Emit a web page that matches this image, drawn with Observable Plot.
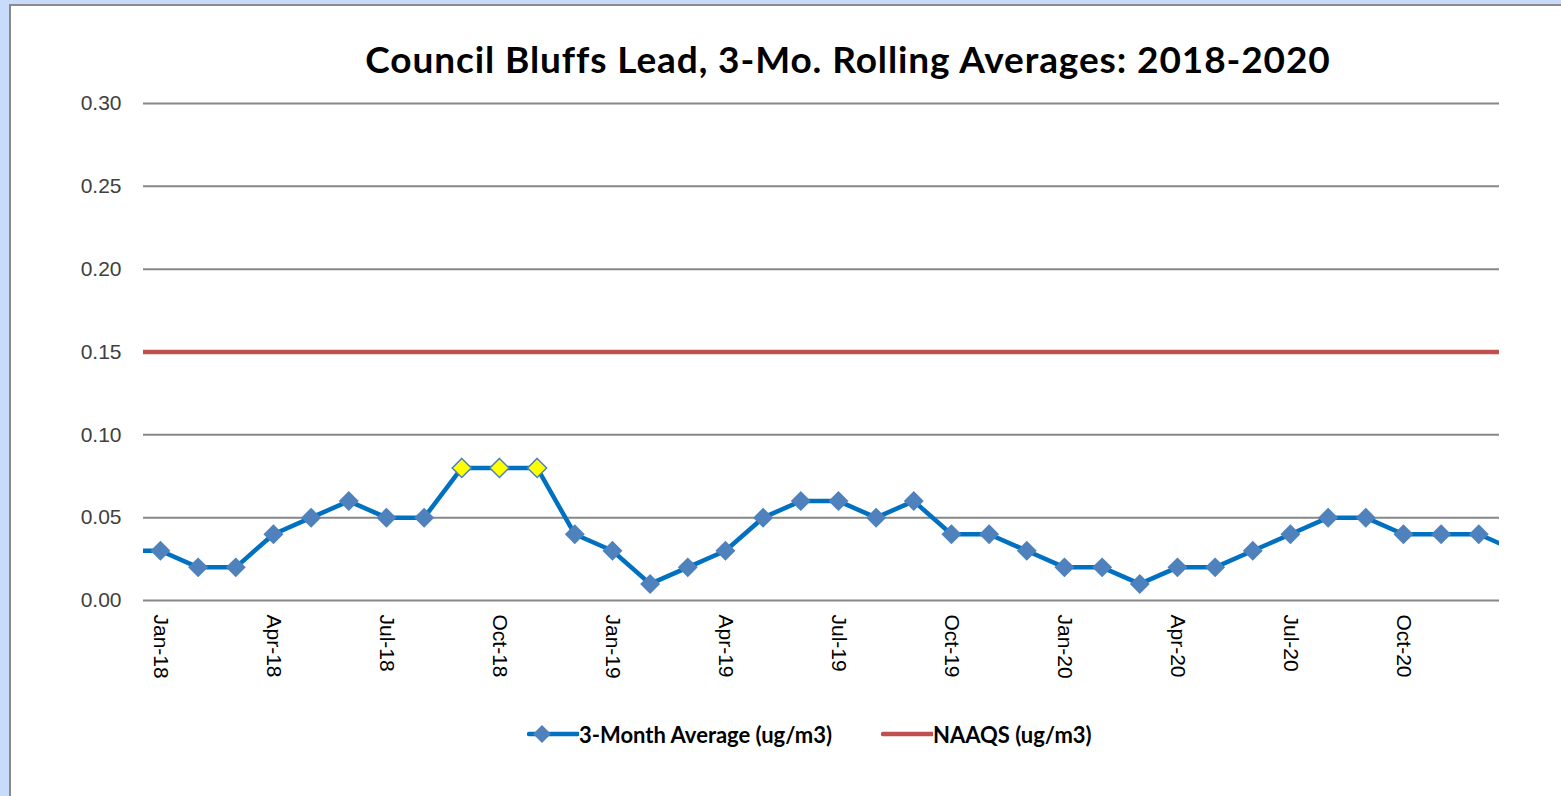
<!DOCTYPE html>
<html><head><meta charset="utf-8">
<script src="https://cdn.jsdelivr.net/npm/d3@7"></script>
<script src="https://cdn.jsdelivr.net/npm/@observablehq/plot@0.6"></script>
<style>
html,body{margin:0;padding:0;width:1561px;height:796px;overflow:hidden;background:#c9dbfb;}
#frame{position:absolute;left:9px;top:4px;width:1600px;height:820px;background:#fff;border-left:2px solid #8a8a8a;border-top:2px solid #8a8a8a;}
#title{position:absolute;left:248px;width:1200px;top:36px;text-align:center;font-family:Lato,"Open Sans",sans-serif;font-weight:bold;font-size:37px;letter-spacing:0.9px;color:#000;white-space:nowrap;}
#chart{position:absolute;left:0;top:90px;}
#legend{position:absolute;left:0;top:719px;width:1561px;font-family:Lato,"Open Sans",sans-serif;font-weight:bold;font-size:22px;color:#000;}
.item{position:absolute;top:0;display:flex;align-items:center;white-space:nowrap;}
</style></head>
<body>
<div id="frame"></div>
<div id="title">Council Bluffs Lead, 3-Mo. Rolling Averages: 2018-2020</div>
<div id="chart"></div>
<div id="legend">
  <div class="item" style="left:527px;"><svg width="52" height="30"><line x1="2" y1="15" x2="51" y2="15" stroke="#0070c0" stroke-width="4.5" stroke-linecap="round"/><path d="M15,6L24,15L15,24L6,15Z" fill="#4f81bd"/></svg><span>3-Month Average (ug/m3)</span></div>
  <div class="item" style="left:881px;"><svg width="52" height="30"><line x1="2" y1="15" x2="51" y2="15" stroke="#c0504d" stroke-width="4.5" stroke-linecap="round"/></svg><span>NAAQS (ug/m3)</span></div>
</div>
<script>
// Month labels for each rolling average (Dec-17 and Jan-21 sit just outside the visible axis)
const months = ["Dec-17",
  "Jan-18","Feb-18","Mar-18","Apr-18","May-18","Jun-18","Jul-18","Aug-18","Sep-18","Oct-18","Nov-18","Dec-18",
  "Jan-19","Feb-19","Mar-19","Apr-19","May-19","Jun-19","Jul-19","Aug-19","Sep-19","Oct-19","Nov-19","Dec-19",
  "Jan-20","Feb-20","Mar-20","Apr-20","May-20","Jun-20","Jul-20","Aug-20","Sep-20","Oct-20","Nov-20","Dec-20",
  "Jan-21"];
const averages = [0.03,
  0.03,0.02,0.02,0.04,0.05,0.06,0.05,0.05,0.08,0.08,0.08,0.04,
  0.03,0.01,0.02,0.03,0.05,0.06,0.06,0.05,0.06,0.04,0.04,0.03,
  0.02,0.02,0.01,0.02,0.02,0.03,0.04,0.05,0.05,0.04,0.04,0.04,
  0.03];
const highlighted = ["Sep-18","Oct-18","Nov-18"];
const visibleMonths = months.slice(1, 37);
const naaqs = 0.15;
const yTicks = [0, 0.05, 0.10, 0.15, 0.20, 0.25, 0.30];
const xTickLabels = ["Jan-18","Apr-18","Jul-18","Oct-18","Jan-19","Apr-19","Jul-19","Oct-19","Jan-20","Apr-20","Jul-20","Oct-20"];

const data = months.map((m, k) => ({month: m, i: k - 1, v: averages[k]}));
const shown = data.filter(d => visibleMonths.includes(d.month));
const normal = shown.filter(d => !highlighted.includes(d.month));
const flagged = shown.filter(d => highlighted.includes(d.month));
const xTickPos = xTickLabels.map(l => visibleMonths.indexOf(l));

const chart = Plot.plot({
  width: 1561,
  height: 610,
  marginLeft: 143,
  marginRight: 62,
  marginTop: 13,
  marginBottom: 100,
  style: {fontFamily: "'Liberation Sans', Arial, sans-serif", background: "transparent", overflow: "visible"},
  x: {type: "linear", domain: [-0.45, 35.55]},
  y: {domain: [0, 0.30]},
  marks: [
    Plot.ruleY(yTicks, {stroke: "#878787", strokeWidth: 2}),
    Plot.ruleY([naaqs], {stroke: "#c0504d", strokeWidth: 4.5}),
    Plot.axisY({ticks: yTicks, tickFormat: d3.format(".2f"), tickSize: 0, tickPadding: 22, fontSize: 21, fill: "#404040", label: null}),
    Plot.axisX({ticks: xTickPos, tickFormat: i => visibleMonths[i], tickRotate: 90, tickSize: 0, tickPadding: 14, fontSize: 21, fill: "#000", label: null}),
    Plot.line(data, {x: "i", y: "v", stroke: "#0070c0", strokeWidth: 4.5, clip: true}),
    Plot.dot(normal, {x: "i", y: "v", symbol: "diamond2", r: 9, fill: "#4f81bd"}),
    Plot.dot(flagged, {x: "i", y: "v", symbol: "diamond2", r: 8.6, fill: "#ffff00", stroke: "#4f81bd", strokeWidth: 1.5})
  ]
});
document.getElementById("chart").appendChild(chart);
</script>
</body></html>
